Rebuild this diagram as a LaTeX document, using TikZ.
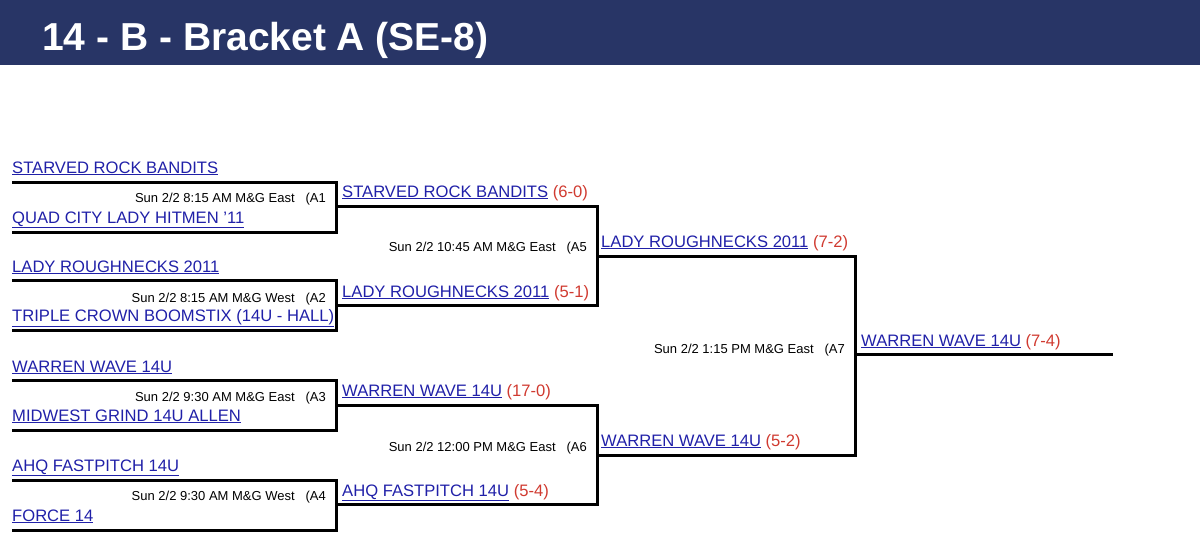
\documentclass[tikz,border=0pt]{standalone}
\usepackage{fontspec}
\setmainfont{Liberation Sans}
\definecolor{navy}{HTML}{283566}
\definecolor{team}{HTML}{2020A8}
\definecolor{score}{HTML}{D03A30}
\begin{document}
\begin{tikzpicture}[x=1pt,y=-1pt,
  line/.style={line width=3pt,black},
  tm/.style={anchor=base west,inner sep=0pt,text=team,font=\fontsize{16.6}{18}\selectfont},
  tt/.style={anchor=base east,inner sep=0pt,font=\fontsize{13}{14}\selectfont}]
\useasboundingbox (0,0) rectangle (1200,555);
\fill[navy] (0,0) rectangle (1200,65);
\node[anchor=base west,inner sep=0pt,text=white,font=\fontsize{39}{42}\bfseries\selectfont] (title) at (42,50) {14 - B - Bracket A (SE-8)};
\newcommand\tn[4]{\node[tm] (#1) at (#2,#3) {\underline{#4}};}
\newcommand\ts[5]{\node[tm] (#1) at (#2,#3) {\underline{#4} \textcolor{score}{(#5)}};}
% round 1
\foreach \n/\y in {a/182,b/232,c/280,d/330,e/380,f/430,g/480,h/530}{
  \coordinate (\n L) at (12,\y); \coordinate (\n R) at (336,\y);}
\tn{t1}{12}{173}{STARVED ROCK BANDITS}
\tn{t2}{12}{223}{QUAD CITY LADY HITMEN '11}
\tn{t3}{12}{272}{LADY ROUGHNECKS 2011}
\tn{t4}{12}{321}{TRIPLE CROWN BOOMSTIX (14U - HALL)}
\tn{t5}{12}{372}{WARREN WAVE 14U}
\tn{t6}{12}{421}{MIDWEST GRIND 14U ALLEN}
\tn{t7}{12}{471}{AHQ FASTPITCH 14U}
\tn{t8}{12}{521}{FORCE 14}
\draw[line] (aL) -- (aR) -- (bR) -- (bL);
\draw[line] (cL) -- (cR) -- (dR) -- (dL);
\draw[line] (eL) -- (eR) -- (fR) -- (fL);
\draw[line] (gL) -- (gR) -- (hR) -- (hL);
\node[tt] (g1) at (326,202) {Sun 2/2 8:15 AM M\&G East \ \ (A1};
\node[tt] (g2) at (326,302) {Sun 2/2 8:15 AM M\&G West \ \ (A2};
\node[tt] (g3) at (326,401) {Sun 2/2 9:30 AM M\&G East \ \ (A3};
\node[tt] (g4) at (326,500) {Sun 2/2 9:30 AM M\&G West \ \ (A4};
% round 2
\foreach \n/\y in {p/206,q/305,r/405,s/504}{
  \coordinate (\n L) at (336,\y); \coordinate (\n R) at (597,\y);}
\ts{w1}{342}{197}{STARVED ROCK BANDITS}{6-0}
\ts{w2}{342}{297}{LADY ROUGHNECKS 2011}{5-1}
\ts{w3}{342}{396}{WARREN WAVE 14U}{17-0}
\ts{w4}{342}{496}{AHQ FASTPITCH 14U}{5-4}
\draw[line] (pL) -- (pR) -- (qR) -- (qL);
\draw[line] (rL) -- (rR) -- (sR) -- (sL);
\node[tt] (g5) at (587,251) {Sun 2/2 10:45 AM M\&G East \ \ (A5};
\node[tt] (g6) at (587,451) {Sun 2/2 12:00 PM M\&G East \ \ (A6};
% round 3
\coordinate (uL) at (597,256); \coordinate (uR) at (855,256);
\coordinate (vL) at (597,455); \coordinate (vR) at (855,455);
\ts{w5}{601}{247}{LADY ROUGHNECKS 2011}{7-2}
\ts{w6}{601}{446}{WARREN WAVE 14U}{5-2}
\draw[line] (uL) -- (uR) -- (vR) -- (vL);
\node[tt] (g7) at (845,353) {Sun 2/2 1:15 PM M\&G East \ \ (A7};
% final
\coordinate (fin1) at (855,354); \coordinate (fin2) at (1113,354);
\ts{w7}{861}{346}{WARREN WAVE 14U}{7-4}
\draw[line] (fin1) -- (fin2);
\end{tikzpicture}
\end{document}
